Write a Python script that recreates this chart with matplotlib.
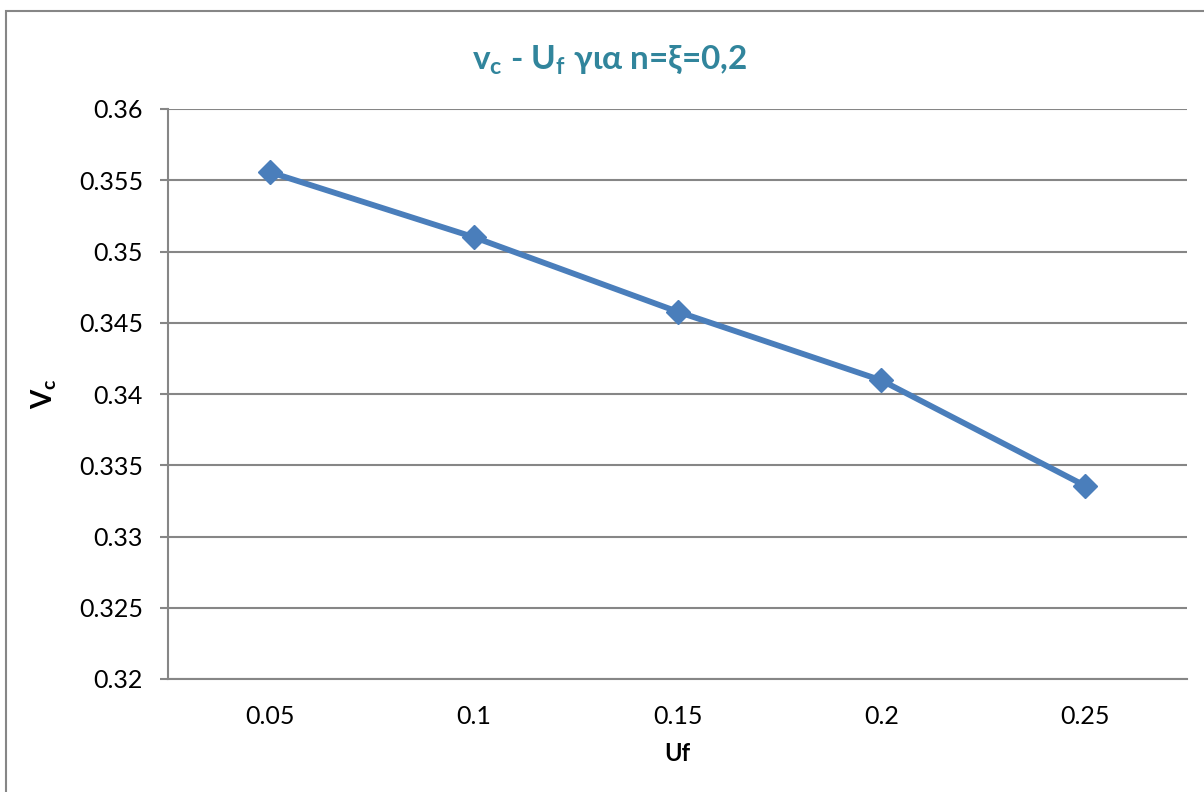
import matplotlib.pyplot as plt
from matplotlib.patches import Rectangle

plt.rcParams['font.family'] = ['Lato', 'Open Sans', 'DejaVu Sans']
plt.rcParams['mathtext.fontset'] = 'custom'
plt.rcParams['mathtext.rm'] = 'Lato'
plt.rcParams['mathtext.bf'] = 'Lato:bold'

uf_labels = ['0.05', '0.1', '0.15', '0.2', '0.25']
vc_values = [0.35557, 0.35101, 0.34578, 0.34096, 0.33356]

line_color = '#4A7EBB'
grid_color = '#868686'

fig = plt.figure(figsize=(12.04, 7.92), dpi=100)
ax = fig.add_axes([168 / 1204, 1 - 679 / 792, (1187 - 168) / 1204, (679 - 109) / 792])

# chart border (Excel style)
fig.patches.append(Rectangle((6 / 1204, -0.01), 1.2, 1 - 11 / 792 + 0.01,
                             transform=fig.transFigure, fill=False,
                             edgecolor=grid_color, linewidth=1.5))

x = list(range(len(uf_labels)))
ax.plot(x, vc_values, color=line_color, linewidth=4.2, marker='D',
        markersize=12.5, markerfacecolor=line_color, markeredgecolor=line_color,
        zorder=3)

ax.set_xlim(-0.5, len(uf_labels) - 0.5)
ax.set_ylim(0.32, 0.36)
ax.set_yticks([0.32 + 0.005 * i for i in range(9)])
ax.set_yticklabels(['0.32', '0.325', '0.33', '0.335', '0.34', '0.345',
                    '0.35', '0.355', '0.36'])
ax.set_xticks(x)
ax.set_xticklabels(uf_labels)

ax.grid(axis='y', color=grid_color, linewidth=1.5)
ax.set_axisbelow(True)
for side in ['top', 'right']:
    ax.spines[side].set_visible(False)
for side in ['left', 'bottom']:
    ax.spines[side].set_color(grid_color)
    ax.spines[side].set_linewidth(1.5)

ax.tick_params(axis='y', length=6, width=1.5, color=grid_color,
               labelsize=18, pad=12)
ax.tick_params(axis='x', length=0, labelsize=18, pad=19)

ax.set_xlabel('Uf', fontsize=17, fontweight='bold', labelpad=10)
ax.set_ylabel(r'V$_{\mathbf{c}}$', fontsize=20, fontweight='bold', labelpad=14)

fig.text(610 / 1204, 1 - 60 / 792,
         r'v$_{\mathbf{c}}$ - U$_{\mathbf{f}}$ για n=ξ=0,2',
         ha='center', va='center', fontsize=24, fontweight='bold',
         color='#31859C')

fig.savefig('out.png', dpi=100)
